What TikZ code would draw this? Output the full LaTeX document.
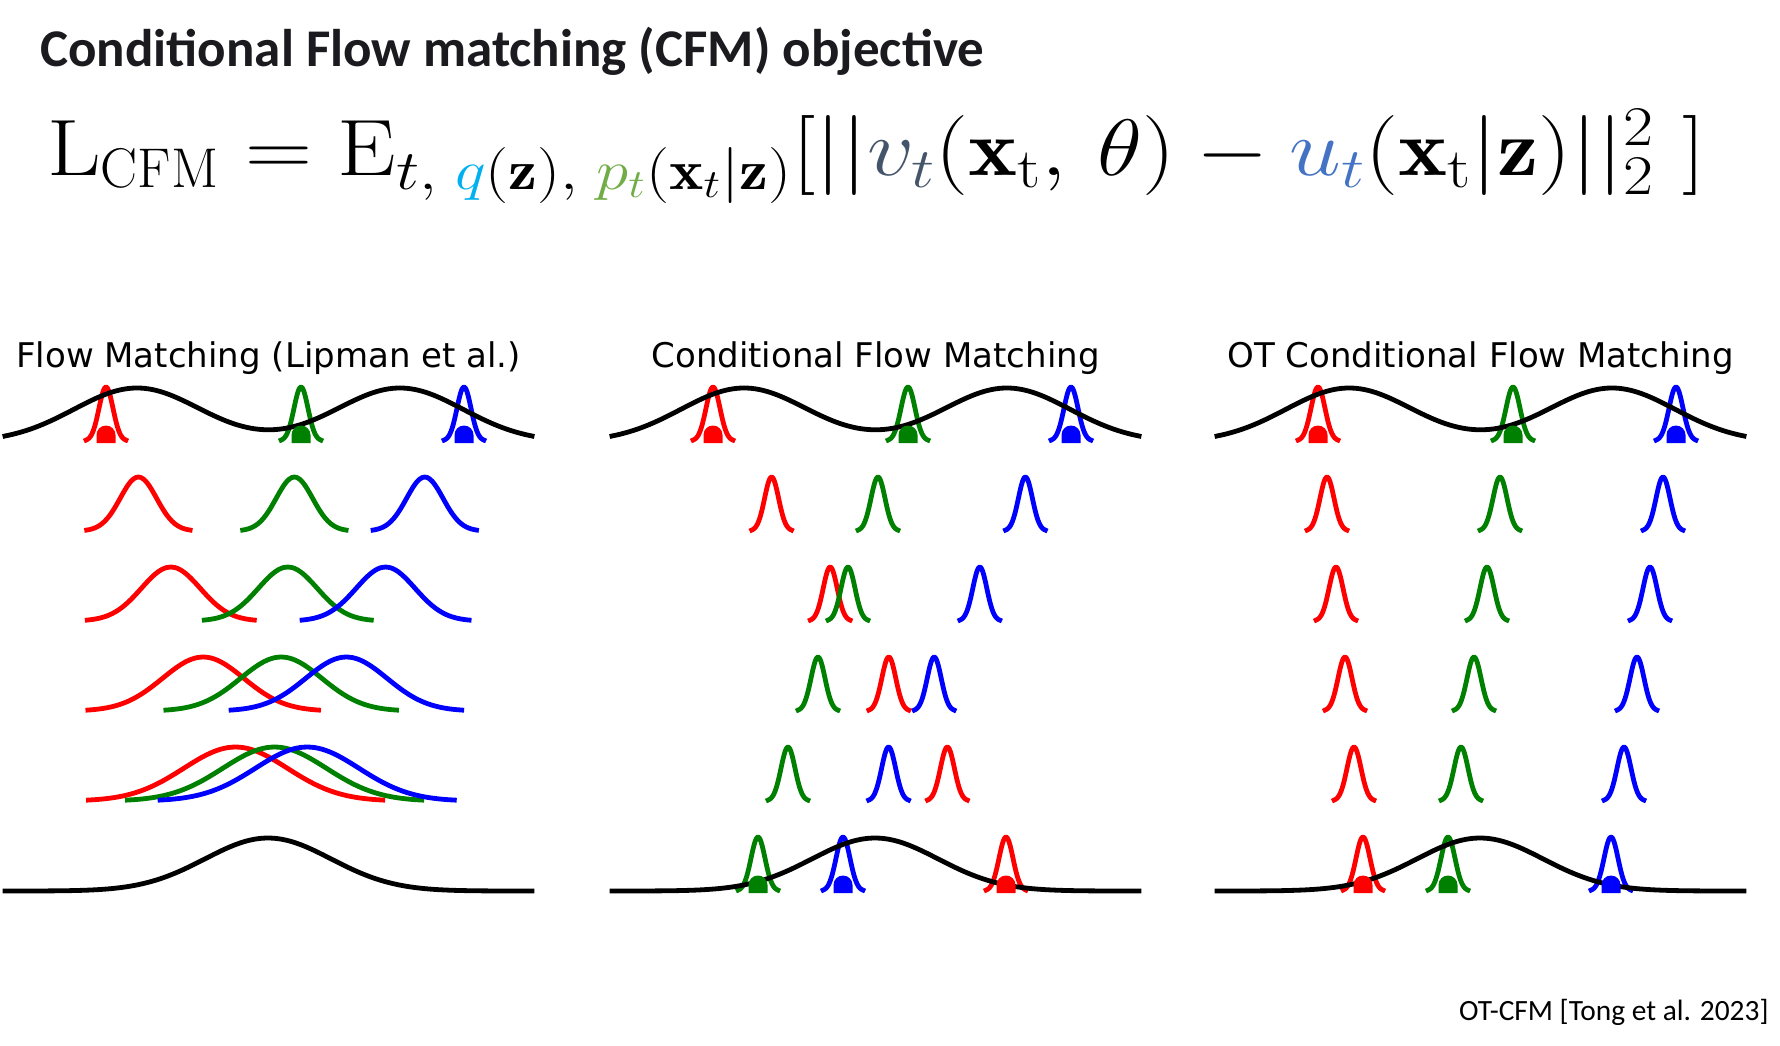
\RequirePackage{fix-cm}
\documentclass[tikz,border=0pt]{standalone}
\usepackage{fontspec}
\usepackage{amsmath}
\usepackage{graphicx}
\newfontfamily\calibri{Carlito}
\newfontfamily\djv{DejaVu Sans}
\definecolor{gred}{rgb}{1,0,0}
\definecolor{ggreen}{rgb}{0,0.5,0}
\definecolor{gblue}{rgb}{0,0,1}
\definecolor{qc}{HTML}{00B0F0}
\definecolor{pc}{HTML}{70AD47}
\definecolor{vc}{HTML}{44546A}
\definecolor{uc}{HTML}{4472C4}
\definecolor{titlec}{HTML}{1A1A1F}
\tikzset{
  declare function={gs(\u)=exp(-0.5*(\u)*(\u));},
  curve/.style={line width=2.4pt, line cap=rect, line join=round},
  paneltitle/.style={anchor=base, inner sep=0pt, font=\djv\fontsize{17}{20}\selectfont},
}
% colour, mean, sigma, baseline
\newcommand\gcurve[4]{%
  \draw[curve,#1] plot[domain=-2.84:2.84, samples=41, smooth] ({#2+#3*\x},{#4-54*gs(\x)});}
% colour, mean, baseline : dome-shaped marker sitting on the baseline
\newcommand\gdot[3]{\fill[#1] (#2-9.5,#3+1) -- (#2-9.5,#3-7) arc[start angle=180, end angle=360, radius=9.5] -- (#2+9.5,#3+1) -- cycle;}
% offset, sigma growth, red end, green end, blue end, colored bottom row (1/0)
\newcommand\flowpanel[6]{%
\begin{scope}[shift={(#1,0)}]
  \gcurve{gred}{106}{7}{441}\gcurve{ggreen}{301}{7}{441}\gcurve{gblue}{464}{7}{441}
  \foreach \k in {1,...,4}{
    \pgfmathsetmacro\tval{\k/5}
    \pgfmathsetmacro\sg{7+#2*\tval}
    \pgfmathsetmacro\bs{441+90*\k}
    \pgfmathsetmacro\mr{106+\tval*(#3-106)}
    \pgfmathsetmacro\mg{301+\tval*(#4-301)}
    \pgfmathsetmacro\mb{464+\tval*(#5-464)}
    \gcurve{gred}{\mr}{\sg}{\bs}\gcurve{ggreen}{\mg}{\sg}{\bs}\gcurve{gblue}{\mb}{\sg}{\bs}
  }
  \ifnum#6=1
    \gcurve{gred}{#3}{7}{891}\gcurve{ggreen}{#4}{7}{891}\gcurve{gblue}{#5}{7}{891}
  \fi
  \draw[curve,black] plot[domain=5:532, samples=140, smooth] (\x,{442-54*(gs((\x-137)/63)+gs((\x-400)/63))});
  \draw[curve,black] plot[domain=5:532, samples=140, smooth] (\x,{891-53*gs((\x-268)/63)});
  \gdot{gred}{106}{442}\gdot{ggreen}{301}{442}\gdot{gblue}{464}{442}
  \ifnum#6=1
    \gdot{gred}{#3}{892}\gdot{ggreen}{#4}{892}\gdot{gblue}{#5}{892}
  \fi
\end{scope}}

\begin{document}
\begin{tikzpicture}[x=0.5pt,y=-0.5pt]
\useasboundingbox (0,0) rectangle (1780,1045);
\fill[white] (0,0) rectangle (1780,1045);

\node[anchor=base west, inner sep=0pt, text=titlec, font=\calibri\bfseries\fontsize{26.5}{30}\selectfont] (title) at (40,66) {Conditional Flow matching (CFM) objective};

\node[anchor=base west, inner sep=0pt, font=\fontsize{40}{48}\selectfont] (formula) at (47,175)
 {\resizebox{829pt}{\height}{$\mathrm{L}_{\scalebox{0.85}[1]{$\scriptstyle\mathrm{CFM}$}} = \mathrm{E}_{t,\;{\color{qc}q}(\mathbf{z}),\;{\color{pc}p_t}(\mathbf{x}_t|\mathbf{z})}[||{\color{vc}v_t}(\mathbf{x}_{\mathrm{t}},\,\theta)-{\color{uc}u_t}(\mathbf{x}_{\mathrm{t}}|\mathbf{z})||_2^2\ ]$}};

\node[paneltitle] (t1) at (268.5,367) {Flow Matching (Lipman et al.)};
\node[paneltitle] (t2) at (875.5,367) {Conditional Flow Matching};
\node[paneltitle] (t3) at (1480.5,367) {OT Conditional Flow Matching};

\flowpanel{0}{56}{268}{268}{268}{0}
\flowpanel{607}{0}{399}{151}{236}{1}
\flowpanel{1212}{0}{151}{236}{399}{1}

\node[anchor=base east, inner sep=0pt, font=\calibri\fontsize{14.7}{17}\selectfont] (foot) at (1769,1020) {OT-CFM [Tong et al. 2023]};
\end{tikzpicture}
\end{document}
